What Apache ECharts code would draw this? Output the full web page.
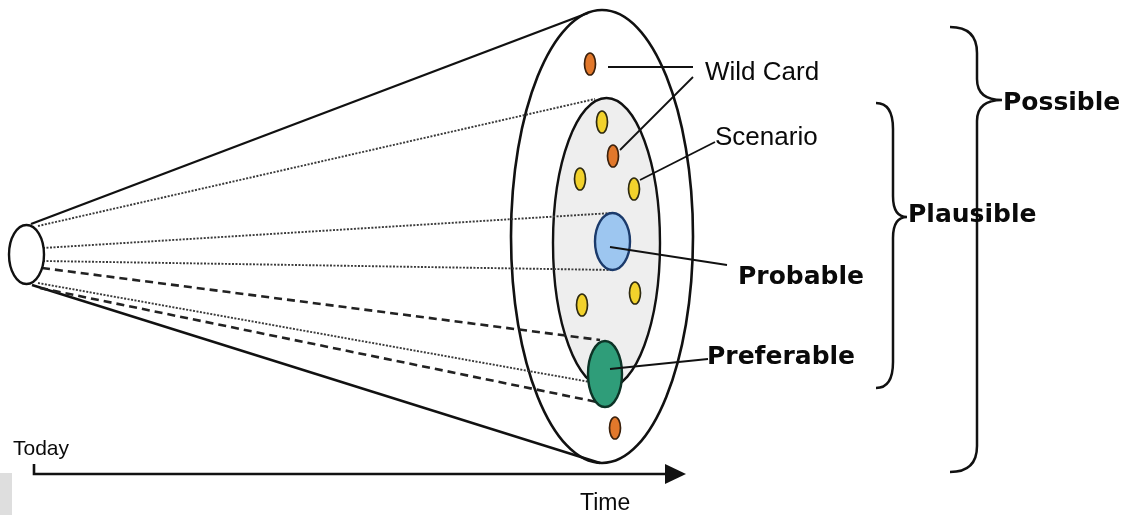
<!DOCTYPE html>
<html><head><meta charset="utf-8">
<script src="https://cdn.jsdelivr.net/npm/echarts@6/dist/echarts.min.js"></script>
<style>html,body{margin:0;padding:0;background:#fff}#c{width:1126px;height:515px}</style>
</head><body><div id="c"></div><script>
// ---- diagram values (in the diagram's own x/y units) ----
// rings: start of the cone (today), possible futures, plausible futures
const ringNames = ['Today', 'Possible', 'Plausible'];
const ringCX = [26.5, 602, 606.5];
const ringCY = [254.5, 236.5, 243];
const ringRX = [17.5, 91, 53.5];
const ringRY = [29.5, 226.5, 145];

// cone edges (solid)
const edgeX1 = [31, 32];
const edgeY1 = [224, 285];
const edgeX2 = [588, 600];
const edgeY2 = [13, 463];

// pathways from today to futures
const pathKind = ['dotted', 'dotted', 'dotted', 'dashed', 'dotted', 'dashed'];
const pathX1 = [38, 43, 43, 42, 38, 40];
const pathY1 = [226, 248, 261, 268, 283, 288];
const pathX2 = [595, 612, 613, 600, 590, 602];
const pathY2 = [99, 213, 270, 340, 382, 403];

// futures (ovals)
const futureKind = ['Wild Card', 'Scenario', 'Wild Card', 'Scenario', 'Scenario', 'Probable', 'Scenario', 'Scenario', 'Preferable', 'Wild Card'];
const futureX = [590, 602, 613, 580, 634, 612.5, 582, 635, 605, 615];
const futureY = [64, 122, 156, 179, 189, 241.5, 305, 293, 374, 428];

// leader lines from futures to labels
const leaderX1 = [608, 620, 640, 610, 610];
const leaderY1 = [67, 150, 180, 247, 369];
const leaderX2 = [693, 693, 715, 727, 708];
const leaderY2 = [67, 77, 142, 265, 359];

// labels
const labelText = ['Wild Card', 'Scenario', 'Probable', 'Preferable', 'Possible', 'Plausible', 'Today', 'Time'];
const labelKind = ['note', 'note', 'key', 'key', 'key', 'key', 'start', 'end'];
const labelX = [705, 715, 738, 707, 1003, 908, 13, 580];
const labelY = [72.5, 138, 277.5, 357.5, 103.5, 215, 449, 503.5];

// braces
const braceLabel = ['Possible', 'Plausible'];
const braceSpineX = [977, 893];
const braceHookX = [950, 876];
const braceTipX = [1002, 907];
const braceTop = [27, 103];
const braceMid = [100, 217];
const braceBottom = [472, 388];

// time axis (today -> time)
const timeAxisX = [34, 686];
const timeAxisY = [474];
const timeTickTop = [464];

// scanned corner patch
const cornerPatch = [0, 473, 12, 515];

// ---- styles ----
const ovalStyle = {
  'Wild Card': { fill: '#E2782B', stroke: '#3a200c', rx: 5.5, ry: 11, lw: 1.7 },
  'Scenario': { fill: '#F2D22C', stroke: '#2e2a10', rx: 5.5, ry: 11, lw: 1.7 },
  'Probable': { fill: '#9DC6F0', stroke: '#1b3a6b', rx: 17.5, ry: 28.5, lw: 2.4 },
  'Preferable': { fill: '#2F9D79', stroke: '#0c3326', rx: 17, ry: 33, lw: 2.4 }
};
const labelFont = {
  note: { fontFamily: 'Liberation Sans', fontWeight: 'normal', fontSize: 26 },
  key: { fontFamily: 'DejaVu Sans', fontWeight: 'bold', fontSize: 25 },
  start: { fontFamily: 'Liberation Sans', fontWeight: 'normal', fontSize: 21 },
  end: { fontFamily: 'Liberation Sans', fontWeight: 'normal', fontSize: 23 }
};
const ringFill = ['#ffffff', '#ffffff', '#eeeeee'];
const ink = '#111111';

const ringData = ringNames.map((n, i) => [ringCX[i], ringCY[i], ringRX[i], ringRY[i], i]);
const edgeData = edgeX1.map((x, i) => [x, edgeY1[i], edgeX2[i], edgeY2[i]]);
const pathData = pathKind.map((k, i) => [pathX1[i], pathY1[i], pathX2[i], pathY2[i], k === 'dashed' ? 1 : 0]);
const futureData = futureKind.map((k, i) => [futureX[i], futureY[i], i]);
const leaderData = leaderX1.map((x, i) => [x, leaderY1[i], leaderX2[i], leaderY2[i]]);
const labelData = labelText.map((t, i) => [labelX[i], labelY[i], i]);
const braceData = braceLabel.map((b, i) => [braceSpineX[i], braceHookX[i], braceTipX[i], braceTop[i], braceMid[i], braceBottom[i]]);
const timeData = [[timeAxisX[0], timeAxisY[0], timeAxisX[1], timeTickTop[0]]];

function renderRing(params, api) {
  const c = api.coord([api.value(0), api.value(1)]);
  const s = api.size([api.value(2) * 2, api.value(3) * 2]);
  const idx = api.value(4);
  return { type: 'ellipse', shape: { cx: c[0], cy: c[1], rx: s[0] / 2, ry: s[1] / 2 },
    style: { fill: ringFill[idx], stroke: ink, lineWidth: idx === 1 ? 2.6 : 2.4 } };
}
function lineRenderer(styleFn) {
  return function (params, api) {
    const a = api.coord([api.value(0), api.value(1)]);
    const b = api.coord([api.value(2), api.value(3)]);
    return { type: 'line', shape: { x1: a[0], y1: a[1], x2: b[0], y2: b[1] }, style: styleFn(api) };
  };
}
function renderFuture(params, api) {
  const c = api.coord([api.value(0), api.value(1)]);
  const st = ovalStyle[futureKind[api.value(2)]];
  return { type: 'ellipse', shape: { cx: c[0], cy: c[1], rx: st.rx, ry: st.ry },
    style: { fill: st.fill, stroke: st.stroke, lineWidth: st.lw } };
}
function renderLabel(params, api) {
  const c = api.coord([api.value(0), api.value(1)]);
  const i = api.value(2);
  const f = labelFont[labelKind[i]];
  return { type: 'text', x: c[0], y: c[1],
    style: Object.assign({ text: labelText[i], fill: '#0a0a0a', align: 'left', verticalAlign: 'middle' }, f) };
}
function renderBrace(params, api) {
  const sx = api.coord([api.value(0), 0])[0];
  const hx = api.coord([api.value(1), 0])[0];
  const tx = api.coord([api.value(2), 0])[0];
  const top = api.coord([0, api.value(3)])[1];
  const mid = api.coord([0, api.value(4)])[1];
  const bot = api.coord([0, api.value(5)])[1];
  const h1 = 26, h2 = 21;
  const d = 'M' + hx + ' ' + top +
    ' Q' + sx + ' ' + top + ' ' + sx + ' ' + (top + h1) +
    ' L' + sx + ' ' + (mid - h2) +
    ' Q' + sx + ' ' + mid + ' ' + tx + ' ' + mid +
    ' Q' + sx + ' ' + mid + ' ' + sx + ' ' + (mid + h2) +
    ' L' + sx + ' ' + (bot - h1) +
    ' Q' + sx + ' ' + bot + ' ' + hx + ' ' + bot;
  return { type: 'path', shape: { pathData: d }, style: { fill: 'none', stroke: ink, lineWidth: 2.5 } };
}
function renderTime(params, api) {
  const a = api.coord([api.value(0), api.value(1)]);
  const b = api.coord([api.value(2), api.value(1)]);
  const t = api.coord([api.value(0), api.value(3)]);
  return { type: 'group', children: [
    { type: 'polyline', shape: { points: [[t[0], t[1]], [a[0], a[1]], [b[0] - 18, b[1]]] },
      style: { fill: 'none', stroke: ink, lineWidth: 2.6 } },
    { type: 'polygon', shape: { points: [[b[0] - 21, b[1] - 10], [b[0], b[1]], [b[0] - 21, b[1] + 10]] },
      style: { fill: ink } }
  ] };
}
function renderPatch(params, api) {
  const a = api.coord([api.value(0), api.value(1)]);
  const b = api.coord([api.value(2), api.value(3)]);
  return { type: 'rect', shape: { x: a[0], y: a[1], width: b[0] - a[0], height: b[1] - a[1] },
    style: { fill: '#dedede' } };
}

const chart = echarts.init(document.getElementById('c'), null, { renderer: 'canvas' });
chart.setOption({
  backgroundColor: '#ffffff',
  animation: false,
  grid: { left: 0, right: 0, top: 0, bottom: 0 },
  xAxis: { type: 'value', min: 0, max: 1126, show: false },
  yAxis: { type: 'value', min: 0, max: 515, inverse: true, show: false },
  series: [
    { type: 'custom', name: 'rings', renderItem: renderRing, data: ringData.slice(1), clip: false },
    { type: 'custom', name: 'edges', renderItem: lineRenderer(() => ({ stroke: ink, lineWidth: 2.4 })), data: edgeData, clip: false },
    { type: 'custom', name: 'pathways', data: pathData, clip: false,
      renderItem: lineRenderer(api => api.value(4) === 1
        ? { stroke: '#222222', lineWidth: 2.6, lineDash: [8, 5] }
        : { stroke: '#3a3a3a', lineWidth: 1.9, lineDash: [2, 1.5] }) },
    { type: 'custom', name: 'start', renderItem: renderRing, data: ringData.slice(0, 1), clip: false },
    { type: 'custom', name: 'futures', renderItem: renderFuture, data: futureData, clip: false },
    { type: 'custom', name: 'leaders', renderItem: lineRenderer(() => ({ stroke: ink, lineWidth: 1.8 })), data: leaderData, clip: false },
    { type: 'custom', name: 'braces', renderItem: renderBrace, data: braceData, clip: false },
    { type: 'custom', name: 'time', renderItem: renderTime, data: timeData, clip: false },
    { type: 'custom', name: 'patch', renderItem: renderPatch, data: [cornerPatch], clip: false },
    { type: 'custom', name: 'labels', renderItem: renderLabel, data: labelData, clip: false }
  ]
});
</script></body></html>
